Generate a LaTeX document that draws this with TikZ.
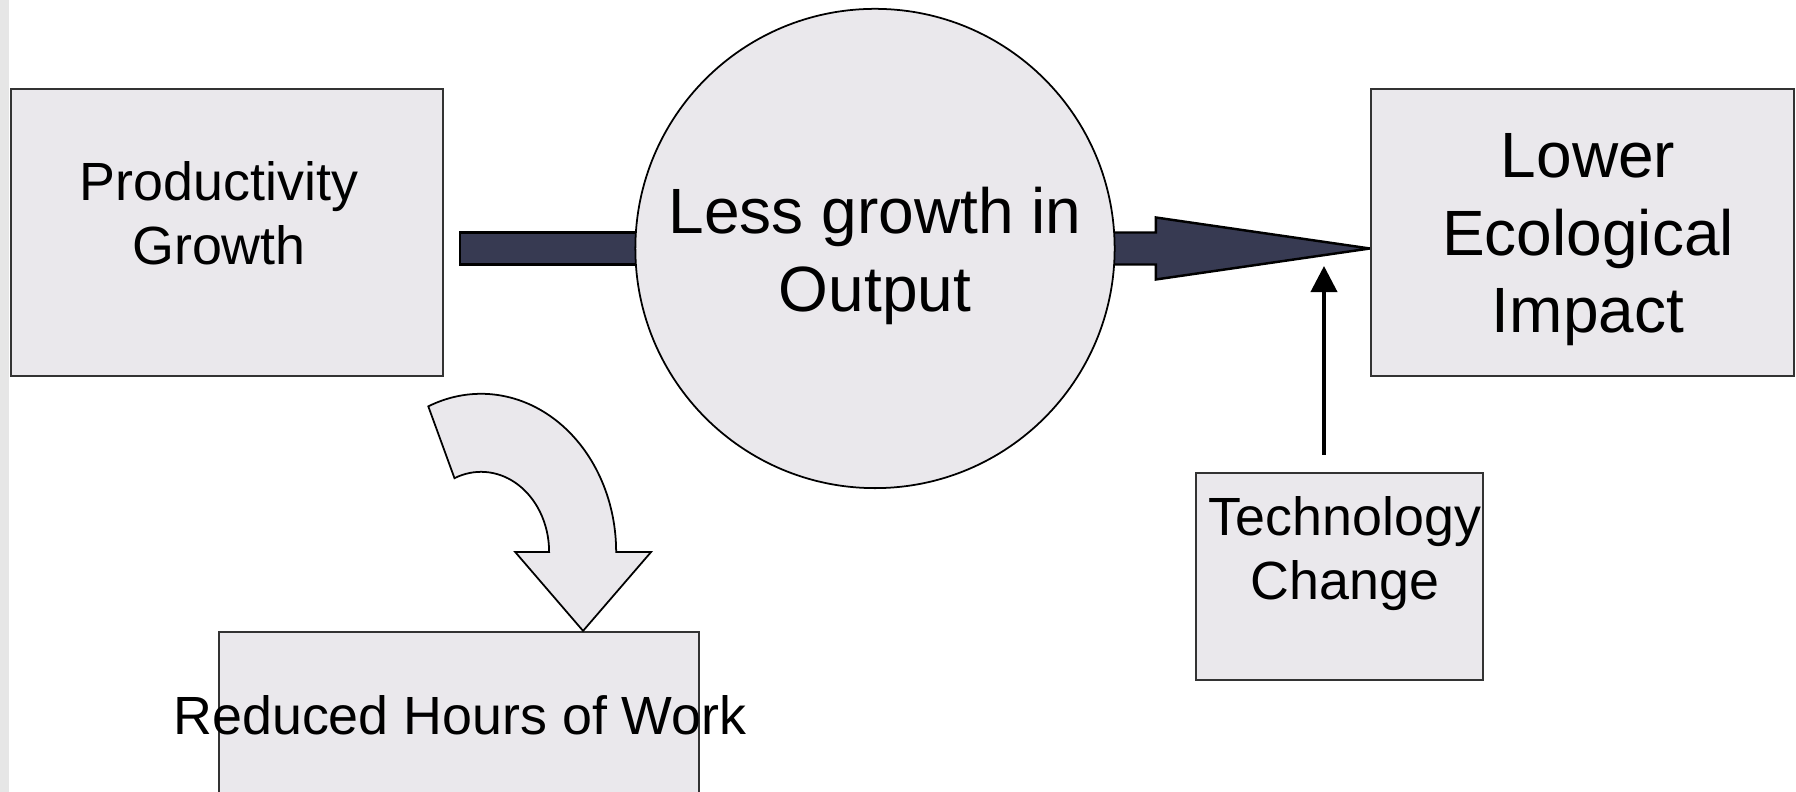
\documentclass[tikz,border=0pt]{standalone}
\usepackage{fontspec}
\setmainfont{Liberation Sans}
\usepackage{tikz}
\usetikzlibrary{arrows.meta, positioning, calc, backgrounds}
\usepackage{xcolor}
\definecolor{boxFill}{HTML}{EAE8EC}
\definecolor{navyC}{HTML}{373A52}
\definecolor{edgeC}{HTML}{333333}
\definecolor{stripC}{HTML}{E6E6E6}
\tikzset{
  bx/.style={rectangle, draw=edgeC, fill=boxFill, line width=0.6pt, inner sep=0pt},
  crc/.style={circle, draw=black, fill=boxFill, line width=0.5pt, minimum size=4.79cm, inner sep=0pt},
  barN/.style={draw=black, fill=navyC, line width=0.7pt},
  bendA/.style={draw=black, fill=boxFill, line width=0.5pt},
  arw/.style={-{Triangle[length=0.26cm, width=0.26cm]}, line width=1.1pt, draw=black},
  lS/.style={align=center, inner sep=0pt, font=\fontsize{15.3}{18.3}\selectfont},
  lL/.style={align=center, inner sep=0pt, font=\fontsize{18.2}{22}\selectfont}
}

\begin{document}
\begin{tikzpicture}[x=0.01cm, y=-0.01cm]
  \useasboundingbox (0,0) rectangle (1796,792);

  % ── Shapes ──
  \node[bx, minimum width=4.32cm, minimum height=2.87cm] (prod) at (227,232.5) {};
  \node[crc] (less) at (875,248.5) {};
  \node[bx, minimum width=4.23cm, minimum height=2.87cm] (eco) at (1582.5,232.5) {};
  \node[bx, minimum width=2.87cm, minimum height=2.07cm] (tech) at (1339.5,576.5) {};
  \node[bx, minimum width=4.80cm, minimum height=1.80cm] (hours) at (459,722) {};

  % ── Labels ──
  \node[lS] (prodT) at ([shift={(-8,-19.5)}]prod.center) {Productivity\\Growth};
  \node[lL] (lessT) at ([shift={(0,7.5)}]less.center) {Less growth in\\Output};
  \node[lL] (ecoT) at ([shift={(5.5,7.5)}]eco.center) {Lower\\Ecological\\Impact};
  \node[lS] (techT) at ([shift={(5.5,-23)}]tech.center) {Technology\\Change};
  \node[lS] (hoursT) at ([shift={(1,-7)}]hours.center) {Reduced Hours of Work};

  % ── Thick bars ──
  \coordinate (barL) at ([xshift=0.16cm]prod.east);
  \coordinate (tipR) at (eco.west |- less.center);
  \begin{scope}[on background layer]
    \fill[stripC] (0,0) rectangle (9,792);
    \draw[barN] (barL |- less.center) ++(0,-16) rectangle ([yshift=-0.16cm]less.center);
    \draw[barN] (tipR) -- ++(-214,-31) -- ++(0,15) -- ++(-282,0) -- ++(0,32) -- ++(282,0) -- ++(0,15) -- cycle;
  \end{scope}

  % ── Technology push ──
  \coordinate (techTop) at ([shift={(-15.5,-17)}]tech.north);
  \draw[arw, shorten >=0.175cm] (techTop) -- (techTop |- tipR);

  % ── Curved arrow down to hours ──
  \coordinate (curveTip) at ([xshift=1.24cm]hours.north);
  \coordinate (cC) at ([shift={(-102,-79)}]curveTip);
  \draw[bendA] (cC) ++(113:1.35cm and 1.58cm)
    arc[start angle=113, end angle=0, x radius=1.35cm, y radius=1.58cm]
    -- ++(0.35cm,0) -- (curveTip) -- ($(cC)+(0.34cm,0)$) -- ++(0.34cm,0)
    arc[start angle=0, end angle=113, x radius=0.68cm, y radius=0.80cm] -- cycle;
\end{tikzpicture}
\end{document}
